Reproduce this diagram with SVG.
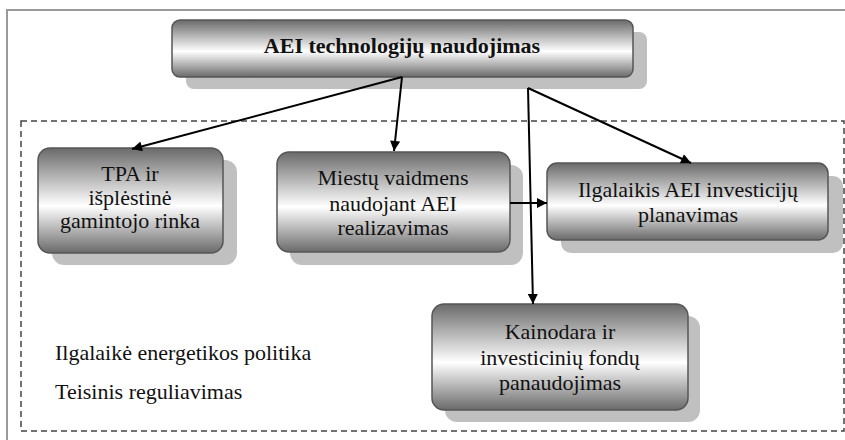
<svg xmlns="http://www.w3.org/2000/svg" width="845" height="440" viewBox="0 0 845 440">
<defs>
<linearGradient id="g" x1="0" y1="0" x2="0" y2="1">
<stop offset="0" stop-color="#6a6a6a"/>
<stop offset="0.55" stop-color="#ffffff"/>
<stop offset="1" stop-color="#6a6a6a"/>
</linearGradient>
<marker id="ah" viewBox="0 0 10 10" refX="10" refY="5" markerWidth="12" markerHeight="10" markerUnits="userSpaceOnUse" orient="auto">
<path d="M0,0 L10,5 L0,10 z" fill="#000"/>
</marker>
<style>
.sh{fill:#c0c0c0}
.bx{fill:url(#g);stroke:#555;stroke-width:1.5}
.t{font-size:22px;fill:#111;text-anchor:middle}
.tb{font-weight:bold}
.l{font-size:22px;fill:#111}
.c{stroke:#000;stroke-width:2;fill:none;marker-end:url(#ah)}
</style>
</defs>
<rect width="845" height="440" fill="#fff"/>
<path d="M7,440 V10 H845" fill="none" stroke="#999" stroke-width="2"/>
<rect x="21" y="121" width="823" height="310" fill="none" stroke="#444" stroke-width="1.5" stroke-dasharray="6,4"/>
<g font-family="'Liberation Serif', 'DejaVu Serif', 'Times New Roman', serif">
<g id="top">
<rect class="sh" x="186" y="32" width="461" height="57" rx="8"/>
<rect class="bx" x="172" y="20" width="461" height="57" rx="8"/>
<text class="t tb" x="402" y="53">AEI technologijų naudojimas</text>
</g>
<g id="tpa">
<rect class="sh" x="52" y="160" width="185" height="105" rx="12"/>
<rect class="bx" x="38" y="148" width="185" height="105" rx="12"/>
<text class="t" x="130" y="181">TPA ir</text>
<text class="t" x="130" y="205">išplėstinė</text>
<text class="t" x="130" y="228">gamintojo rinka</text>
</g>
<g id="miestu">
<rect class="sh" x="290" y="165" width="233" height="100" rx="12"/>
<rect class="bx" x="277" y="152" width="233" height="100" rx="12"/>
<text class="t" x="393" y="185">Miestų vaidmens</text>
<text class="t" x="393" y="211">naudojant AEI</text>
<text class="t" x="393" y="235">realizavimas</text>
</g>
<g id="ilgalaikis">
<rect class="sh" x="561" y="176" width="282" height="77" rx="10"/>
<rect class="bx" x="547" y="163" width="281" height="77" rx="10"/>
<text class="t" x="688" y="197">Ilgalaikis AEI investicijų</text>
<text class="t" x="688" y="222">planavimas</text>
</g>
<g id="kainodara">
<rect class="sh" x="445" y="316" width="255" height="106" rx="12"/>
<rect class="bx" x="432" y="304" width="256" height="106" rx="12"/>
<text class="t" x="560" y="339">Kainodara ir</text>
<text class="t" x="560" y="365">investicinių fondų</text>
<text class="t" x="560" y="390">panaudojimas</text>
</g>
<g id="labels">
<text class="l" x="55" y="360">Ilgalaikė energetikos politika</text>
<text class="l" x="55" y="399">Teisinis reguliavimas</text>
</g>
</g>
<g id="connectors">
<line class="c" x1="402" y1="77" x2="132" y2="149"/>
<line class="c" x1="402" y1="77" x2="394" y2="151"/>
<line class="c" x1="528" y1="88" x2="691" y2="163"/>
<line class="c" x1="528" y1="88" x2="533" y2="304"/>
<line class="c" x1="510" y1="203" x2="547" y2="203"/>
</g>
</svg>
